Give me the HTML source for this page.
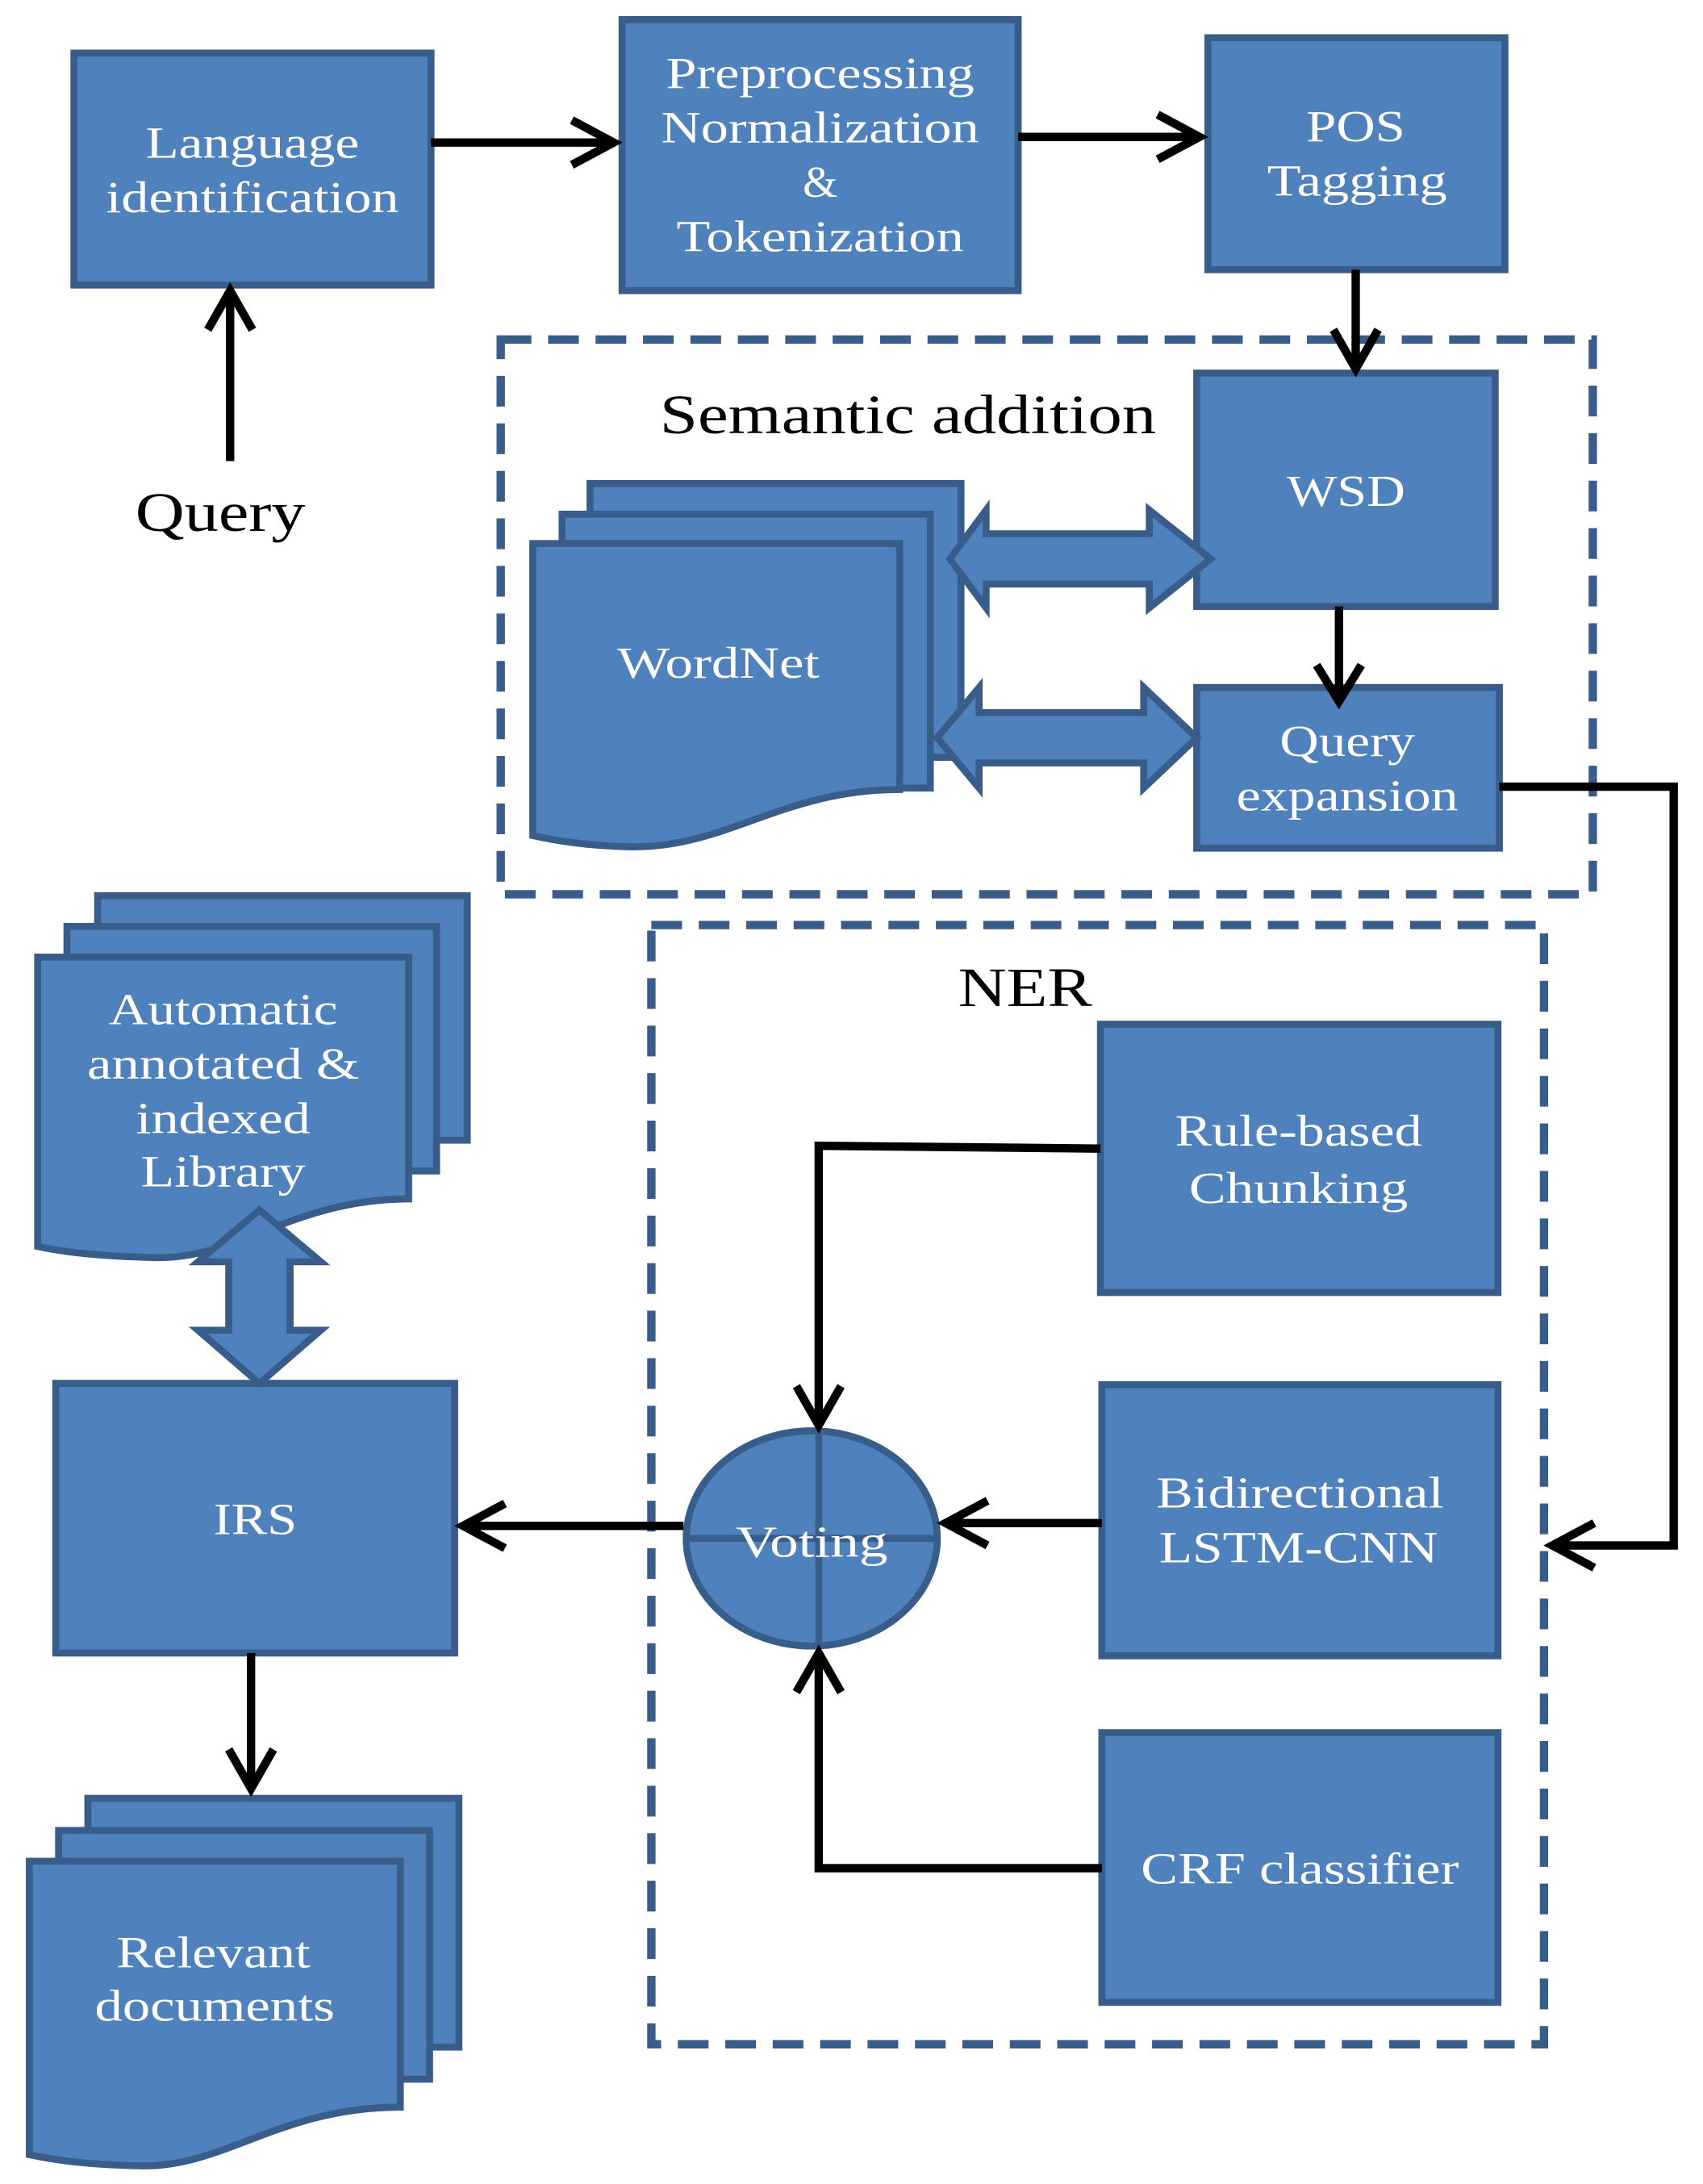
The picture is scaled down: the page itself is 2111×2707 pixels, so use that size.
<!DOCTYPE html>
<html><head><meta charset="utf-8"><style>
html,body{margin:0;padding:0;background:#fff;}
svg{display:block;}
text{font-family:"Liberation Serif",serif;}
.w{fill:#fff;font-size:32px;text-anchor:middle;}
.b{fill:#000;font-size:40px;text-anchor:middle;}
</style></head><body>
<svg width="2111" height="2707" viewBox="0 0 1221 1563" preserveAspectRatio="none" xmlns="http://www.w3.org/2000/svg">
<g fill="#4f81bd" stroke="#385d8a" stroke-width="5">
<rect x="53" y="38" width="256" height="166"/>
<rect x="446" y="14" width="284" height="194"/>
<rect x="866" y="27" width="213" height="166"/>
<rect x="858" y="267" width="214" height="167"/>
<rect x="858" y="492" width="217" height="115"/>
<rect x="789" y="733" width="285" height="192"/>
<rect x="790" y="991" width="284" height="194"/>
<rect x="790" y="1240" width="284" height="193"/>
<rect x="40" y="990" width="286" height="193"/>
<rect x="423" y="346" width="266" height="196"/>
<rect x="403" y="368" width="264" height="196"/>
<path d="M382,389 H645 V565 C560,565 520,608 450,606 C420,605 400,602 382,598 Z"/>
<rect x="70" y="641" width="265" height="175"/>
<rect x="48" y="663" width="265" height="175"/>
<path d="M27,685 H293 V858 C210,858 170,902 110,900 C70,899 45,896 27,892 Z"/>
<rect x="63" y="1287" width="266" height="178"/>
<rect x="42" y="1310" width="266" height="178"/>
<path d="M21,1332 H287 V1508 C200,1508 160,1552 100,1550 C60,1549 40,1546 21,1542 Z"/>
<path d="M681,400 L707,365 V382 H824 V365 L868,400 L824,435 V418 H707 V435 Z"/>
<path d="M672,528 L702,492 V510 H820 V492 L858,528 L820,564 V546 H702 V564 Z"/>
<path d="M186,866 L230,903 H208 V952 H230 L186,990 L142,952 H164 V903 H142 Z"/>
<ellipse cx="582" cy="1101" rx="90" ry="77"/>
<line x1="587" y1="1025" x2="587" y2="1178"/>
<line x1="492" y1="1101" x2="672" y2="1101"/>
</g>
<g fill="none" stroke="#385d8a" stroke-width="6" stroke-dasharray="22,12">
<rect x="359" y="243" width="783" height="397"/>
<rect x="467" y="662" width="640" height="801"/>
</g>
<g fill="none" stroke="#000" stroke-width="6">
<line x1="309" y1="102" x2="440" y2="102"/><polyline points="410,86 440,102 410,118"/>
<line x1="730" y1="98" x2="860" y2="98"/><polyline points="830,82 860,98 830,114"/>
<line x1="972" y1="193" x2="972" y2="262"/><polyline points="956,236 972,264 988,236"/>
<line x1="960" y1="434" x2="960" y2="500"/><polyline points="944,476 960,502 976,476"/>
<line x1="165" y1="330" x2="165" y2="210"/><polyline points="149,236 165,208 181,236"/>
<polyline points="1075,563 1200,563 1200,1106 1113,1106"/><polyline points="1143,1090 1113,1106 1143,1122"/>
<polyline points="789,822 587,820 587,1020"/><polyline points="571,992 587,1020 603,992"/>
<polyline points="790,1337 587,1337 587,1183"/><polyline points="571,1211 587,1183 603,1211"/>
<line x1="790" y1="1090" x2="678" y2="1090"/><polyline points="708,1074 678,1090 708,1106"/>
<line x1="490" y1="1092" x2="332" y2="1092"/><polyline points="362,1076 332,1092 362,1108"/>
<line x1="180" y1="1183" x2="180" y2="1280"/><polyline points="164,1252 180,1280 196,1252"/>
</g>
<g lengthAdjust="spacingAndGlyphs">
<text class="w" x="181" y="113" textLength="153" lengthAdjust="spacingAndGlyphs">Language</text>
<text class="w" x="181" y="152" textLength="210" lengthAdjust="spacingAndGlyphs">identification</text>
<text class="w" x="588" y="63" textLength="221" lengthAdjust="spacingAndGlyphs">Preprocessing</text>
<text class="w" x="588" y="102" textLength="228" lengthAdjust="spacingAndGlyphs">Normalization</text>
<text class="w" x="588" y="141">&amp;</text>
<text class="w" x="588" y="180" textLength="206" lengthAdjust="spacingAndGlyphs">Tokenization</text>
<text class="w" x="972" y="101" textLength="71" lengthAdjust="spacingAndGlyphs">POS</text>
<text class="w" x="973" y="140" textLength="129" lengthAdjust="spacingAndGlyphs">Tagging</text>
<text class="w" x="965" y="362" textLength="85" lengthAdjust="spacingAndGlyphs">WSD</text>
<text class="w" x="966" y="541" textLength="97" lengthAdjust="spacingAndGlyphs">Query</text>
<text class="w" x="966" y="580" textLength="159" lengthAdjust="spacingAndGlyphs">expansion</text>
<text class="w" x="515" y="485" textLength="145" lengthAdjust="spacingAndGlyphs">WordNet</text>
<text class="w" x="931" y="820" textLength="177" lengthAdjust="spacingAndGlyphs">Rule-based</text>
<text class="w" x="931" y="861" textLength="157" lengthAdjust="spacingAndGlyphs">Chunking</text>
<text class="w" x="932" y="1079" textLength="206" lengthAdjust="spacingAndGlyphs">Bidirectional</text>
<text class="w" x="931" y="1118" textLength="200" lengthAdjust="spacingAndGlyphs">LSTM-CNN</text>
<text class="w" x="932" y="1348" textLength="228" lengthAdjust="spacingAndGlyphs">CRF classifier</text>
<text class="w" x="582" y="1114" textLength="109" lengthAdjust="spacingAndGlyphs">Voting</text>
<text class="w" x="183" y="1098" textLength="60" lengthAdjust="spacingAndGlyphs">IRS</text>
<text class="w" x="160" y="733" textLength="164" lengthAdjust="spacingAndGlyphs">Automatic</text>
<text class="w" x="160" y="772" textLength="195" lengthAdjust="spacingAndGlyphs">annotated &amp;</text>
<text class="w" x="160" y="811" textLength="125" lengthAdjust="spacingAndGlyphs">indexed</text>
<text class="w" x="160" y="849" textLength="118" lengthAdjust="spacingAndGlyphs">Library</text>
<text class="w" x="153" y="1408" textLength="139" lengthAdjust="spacingAndGlyphs">Relevant</text>
<text class="w" x="154" y="1446" textLength="172" lengthAdjust="spacingAndGlyphs">documents</text>
<text class="b" x="651" y="310" textLength="356" lengthAdjust="spacingAndGlyphs">Semantic addition</text>
<text class="b" x="735" y="720" textLength="96" lengthAdjust="spacingAndGlyphs">NER</text>
<text class="b" x="158" y="380" textLength="122" lengthAdjust="spacingAndGlyphs">Query</text>
</g>
</svg>
</body></html>
